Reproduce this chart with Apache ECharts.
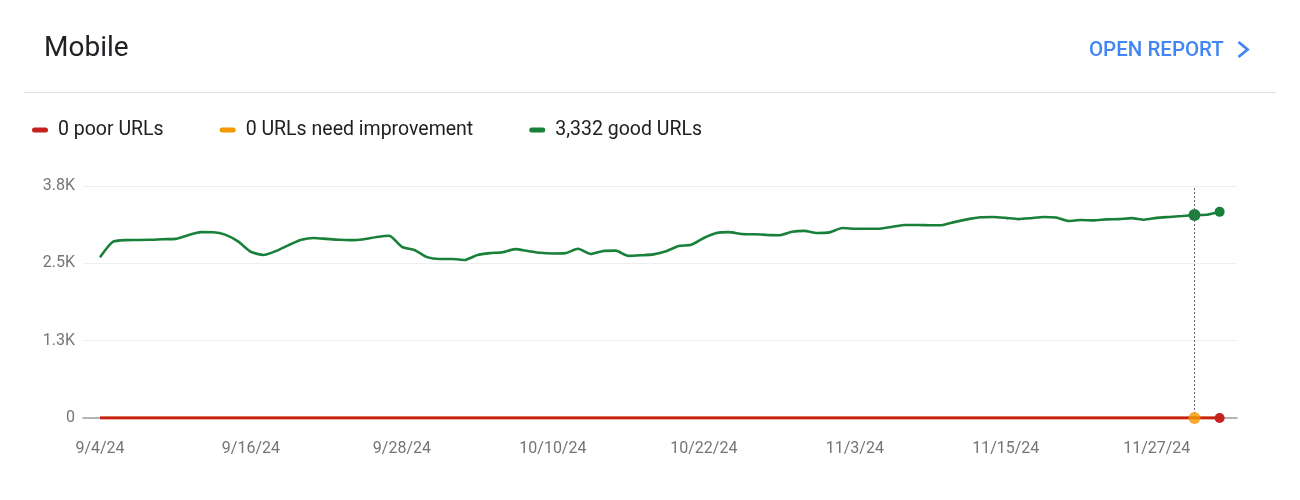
<!DOCTYPE html>
<html><head><meta charset="utf-8">
<script src="https://cdn.jsdelivr.net/npm/echarts@6/dist/echarts.min.js"></script>
<style>html,body{margin:0;padding:0;background:#fff}#c{width:1300px;height:500px}</style>
</head><body><div id="c"></div>
<script>
const dates = [
  '9/4/24','9/5/24','9/6/24','9/7/24','9/8/24','9/9/24','9/10/24','9/11/24','9/12/24','9/13/24',
  '9/14/24','9/15/24','9/16/24','9/17/24','9/18/24','9/19/24','9/20/24','9/21/24','9/22/24','9/23/24',
  '9/24/24','9/25/24','9/26/24','9/27/24','9/28/24','9/29/24','9/30/24','10/1/24','10/2/24','10/3/24',
  '10/4/24','10/5/24','10/6/24','10/7/24','10/8/24','10/9/24','10/10/24','10/11/24','10/12/24','10/13/24',
  '10/14/24','10/15/24','10/16/24','10/17/24','10/18/24','10/19/24','10/20/24','10/21/24','10/22/24','10/23/24',
  '10/24/24','10/25/24','10/26/24','10/27/24','10/28/24','10/29/24','10/30/24','10/31/24','11/1/24','11/2/24',
  '11/3/24','11/4/24','11/5/24','11/6/24','11/7/24','11/8/24','11/9/24','11/10/24','11/11/24','11/12/24',
  '11/13/24','11/14/24','11/15/24','11/16/24','11/17/24','11/18/24','11/19/24','11/20/24','11/21/24','11/22/24',
  '11/23/24','11/24/24','11/25/24','11/26/24','11/27/24','11/28/24','11/29/24','11/30/24','12/1/24','12/2/24'
];
const goodValues = [
  2600, 2845, 2875, 2877, 2880, 2890, 2895, 2955, 3005, 3003,
  2960, 2850, 2685, 2635, 2700, 2795, 2880, 2910, 2895, 2880,
  2875, 2890, 2925, 2945, 2765, 2715, 2600, 2570, 2570, 2555,
  2635, 2665, 2680, 2730, 2700, 2670, 2660, 2665, 2735, 2650,
  2700, 2705, 2620, 2630, 2645, 2695, 2780, 2800, 2910, 2990,
  3005, 2975, 2970, 2960, 2955, 3010, 3025, 2990, 3000, 3070,
  3060, 3058, 3060, 3090, 3120, 3120, 3115, 3120, 3170, 3215,
  3245, 3250, 3235, 3215, 3230, 3250, 3240, 3185, 3200, 3195,
  3210, 3215, 3230, 3205, 3235, 3250, 3265, 3281, 3285, 3332
];
const needsImprovementValues = [
  0,0,0,0,0,0,0,0,0,0, 0,0,0,0,0,0,0,0,0,0, 0,0,0,0,0,0,0,0,0,0,
  0,0,0,0,0,0,0,0,0,0, 0,0,0,0,0,0,0,0,0,0, 0,0,0,0,0,0,0,0,0,0,
  0,0,0,0,0,0,0,0,0,0, 0,0,0,0,0,0,0,0,0,0, 0,0,0,0,0,0,0,0,0,0
];
const poorValues = [
  0,0,0,0,0,0,0,0,0,0, 0,0,0,0,0,0,0,0,0,0, 0,0,0,0,0,0,0,0,0,0,
  0,0,0,0,0,0,0,0,0,0, 0,0,0,0,0,0,0,0,0,0, 0,0,0,0,0,0,0,0,0,0,
  0,0,0,0,0,0,0,0,0,0, 0,0,0,0,0,0,0,0,0,0, 0,0,0,0,0,0,0,0,0,0
];
const xTickLabels = ['9/4/24','9/16/24','9/28/24','10/10/24','10/22/24','11/3/24','11/15/24','11/27/24'];
const yTickValues = [0, 1250, 2500, 3750];
const yTickLabels = ['0', '1.3K', '2.5K', '3.8K'];
const hoverDate = '11/30/24';

const FONT = 'Roboto, "Noto Sans", sans-serif';
const hoverIdx = dates.indexOf(hoverDate);
const lastIdx = dates.length - 1;
const last = a => a[a.length - 1];
const fmt = n => n.toLocaleString('en-US');
const names = {
  poor: fmt(last(poorValues)) + ' poor URLs',
  ni: fmt(last(needsImprovementValues)) + ' URLs need improvement',
  good: fmt(last(goodValues)) + ' good URLs'
};
const colors = { poor: '#c5221f', ni: '#f29900', good: '#188038' };

function build(values, marks) {
  return values.map((v, i) => {
    const s = marks[i];
    return s ? { value: [i, v], symbol: 'circle', symbolSize: s } : { value: [i, v], symbol: 'none' };
  });
}

const chart = echarts.init(document.getElementById('c'), null, { renderer: 'canvas' });
const pill = 'path://M2.5,0H13.5A2.5,2.5,0,0,1,13.5,5H2.5A2.5,2.5,0,0,1,2.5,0Z';
chart.setOption({
  animation: false,
  backgroundColor: '#fff',
  textStyle: { fontFamily: FONT },
  graphic: [
    { type: 'text', left: 44, top: 35, style: { text: 'Mobile', font: '400 28px ' + FONT, fill: '#202124' } },
    { type: 'text', left: 1089, top: 40, style: { text: 'OPEN REPORT', font: '500 20.5px ' + FONT, fill: '#4285f4' } },
    { type: 'polyline', shape: { points: [[1238.5, 42], [1247.5, 49.5], [1238.5, 57]] },
      style: { stroke: '#4285f4', lineWidth: 2.8, fill: null } },
    { type: 'line', shape: { x1: 24, y1: 92.5, x2: 1276, y2: 92.5 }, style: { stroke: '#e0e0e0', lineWidth: 1 } }
  ],
  legend: {
    left: 27, top: 115,
    data: [names.poor, names.ni, names.good],
    icon: pill, itemWidth: 16, itemHeight: 5, itemGap: 56,
    textStyle: { fontSize: 19.5, color: '#202124', fontFamily: FONT, padding: [0, 0, 0, 5] },
    selectedMode: false
  },
  grid: { left: 83, right: 63, top: 186, bottom: 82, containLabel: false },
  xAxis: {
    type: 'value', min: -1.35, max: 90.38,
    splitLine: { show: false },
    axisTick: { show: false },
    axisLine: { show: true, lineStyle: { color: '#9e9e9e', width: 1.5 } },
    axisLabel: {
      customValues: xTickLabels.map(l => dates.indexOf(l)),
      formatter: v => dates[Math.round(v)],
      color: '#757575', fontSize: 16, margin: 23, fontFamily: FONT
    }
  },
  yAxis: {
    type: 'value', min: 0, max: 3750, interval: 1250,
    axisLine: { show: false }, axisTick: { show: false },
    splitLine: { lineStyle: { color: '#eeeeee', width: 1 } },
    axisLabel: {
      formatter: v => yTickLabels[yTickValues.indexOf(v)],
      color: '#757575', fontSize: 16, margin: 8, fontFamily: FONT
    }
  },
  series: [
    {
      name: names.good, type: 'line', z: 3, smooth: 0.2,
      data: build(goodValues, { [hoverIdx]: 12, [lastIdx]: 10 }),
      color: colors.good,
      lineStyle: { color: colors.good, width: 2.6 },
      itemStyle: { color: colors.good },
      emphasis: { disabled: true },
      markLine: {
        silent: true, symbol: 'none', label: { show: false },
        lineStyle: { color: '#666', type: [2, 2], width: 1 },
        data: [{ xAxis: hoverIdx }]
      }
    },
    {
      name: names.ni, type: 'line', z: 2,
      data: build(needsImprovementValues, {}),
      color: colors.ni,
      lineStyle: { color: colors.ni, width: 3 },
      itemStyle: { color: colors.ni },
      emphasis: { disabled: true }
    },
    {
      name: names.poor, type: 'line', z: 4,
      data: build(poorValues, { [lastIdx]: 10 }),
      color: colors.poor,
      lineStyle: { color: colors.poor, width: 3 },
      itemStyle: { color: colors.poor },
      emphasis: { disabled: true }
    },
    {
      name: 'hover', type: 'scatter', z: 5, symbol: 'circle', symbolSize: 12,
      data: [[hoverIdx, needsImprovementValues[hoverIdx]]],
      itemStyle: { color: colors.ni },
      emphasis: { disabled: true }, silent: true
    }
  ]
});
</script></body></html>
